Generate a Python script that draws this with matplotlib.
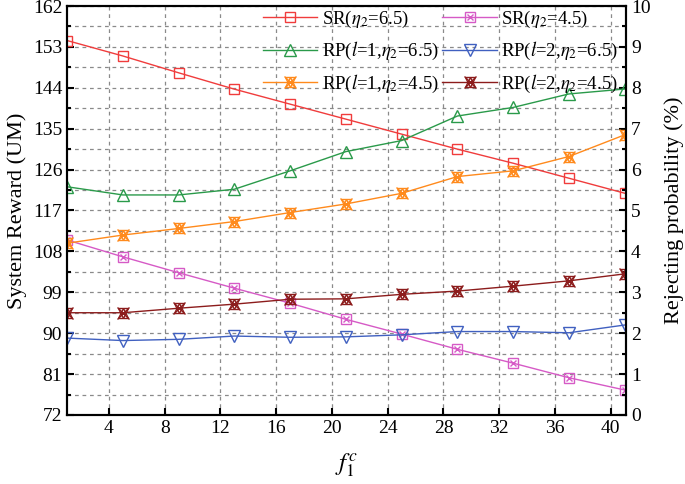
import numpy as np
import matplotlib.pyplot as plt
from matplotlib.ticker import MultipleLocator

plt.rcParams['font.family'] = 'Liberation Serif'
plt.rcParams['mathtext.fontset'] = 'stix'

# Datos
f1c = [1, 5, 9, 13, 17, 21, 25, 29, 33, 37, 41]
sr_65 = [154.4, 151.0, 147.3, 143.7, 140.4, 137.1, 133.8, 130.5, 127.4, 124.1, 120.8]
sr_45 = [110.5, 106.8, 103.3, 99.9, 96.6, 93.05, 89.8, 86.45, 83.4, 80.2, 77.5]
rp_l1_65 = [5.58, 5.38, 5.38, 5.52, 5.97, 6.44, 6.71, 7.31, 7.52, 7.85, 7.97]
rp_l2_65 = [1.88, 1.82, 1.85, 1.93, 1.90, 1.91, 1.96, 2.04, 2.04, 2.01, 2.20]
rp_l1_45 = [4.20, 4.40, 4.56, 4.73, 4.95, 5.16, 5.42, 5.83, 5.97, 6.32, 6.85]
rp_l2_45 = [2.50, 2.50, 2.61, 2.71, 2.83, 2.84, 2.95, 3.03, 3.15, 3.28, 3.45]

c_red = '#F03C3C'
c_pink = '#D65AC6'
c_green = '#2A9A4A'
c_blue = '#4060C0'
c_orange = '#FF8A1C'
c_dred = '#8C1C1C'

fig = plt.figure(figsize=(6.85, 4.84), dpi=100)
ax = fig.add_axes([0.098, 0.1426, 0.816, 0.845])
ax2 = ax.twinx()

ms = 7.5
mk = dict(markerfacecolor='none', markersize=ms, markeredgewidth=1.0)

h1, = ax.plot(f1c, sr_65, color=c_red, lw=1, marker='s', **mk)
h2, = ax.plot(f1c, sr_45, color=c_pink, lw=1, marker='s', **mk)
h2b, = ax.plot(f1c, sr_45, color=c_pink, lw=0, marker='x', markersize=5, markeredgewidth=1.0)

h3, = ax2.plot(f1c, rp_l1_65, color=c_green, lw=1, marker='^', markerfacecolor='none',
               markersize=8.5, markeredgewidth=1.0)
h4, = ax2.plot(f1c, rp_l2_65, color=c_blue, lw=1, marker='v', markerfacecolor='none',
               markersize=8.5, markeredgewidth=1.0)

def star(y, color):
    a, = ax2.plot(f1c, y, color=color, lw=1, marker='^', **mk)
    b, = ax2.plot(f1c, y, color=color, lw=0, marker='v', **mk)
    c, = ax2.plot(f1c, y, color=color, lw=0, marker='x', markersize=ms + 1, markeredgewidth=1.0)
    return (a, b, c)

h5 = star(rp_l1_45, c_orange)
h6 = star(rp_l2_45, c_dred)

ax.set_xlim(1, 41.1)
ax.set_ylim(72, 162)
ax2.set_ylim(0, 10)
ax.set_xticks(np.arange(4, 41, 4))
ax.yaxis.set_major_locator(MultipleLocator(9))
ax.yaxis.set_minor_locator(MultipleLocator(4.5))
ax2.yaxis.set_major_locator(MultipleLocator(1))
ax2.yaxis.set_minor_locator(MultipleLocator(0.5))

ax.grid(True, which='both', axis='y', ls=(0, (3, 3)), color='#8a8a8a', lw=0.9)
ax.grid(True, which='major', axis='x', ls=(0, (3, 3)), color='#8a8a8a', lw=0.9)

for a in (ax, ax2):
    a.tick_params(direction='in', which='major', length=5, width=1.5, labelsize=14)
    a.tick_params(direction='in', which='minor', length=3, width=1.5)
    for s in a.spines.values():
        s.set_linewidth(1.5)

ax.set_ylabel('System Reward (UM)', fontsize=16)
ax2.set_ylabel('Rejecting probability (%)', fontsize=16, labelpad=10)
ax.set_xlabel('$f_1^c$', fontsize=18, labelpad=10)

handles = [h1, h3, h5, (h2, h2b), h4, h6]
labels = [r'SR($\eta_2$=6.5)', r'RP($l$=1,$\eta_2$=6.5)', r'RP($l$=1,$\eta_2$=4.5)',
          r'SR($\eta_2$=4.5)', r'RP($l$=2,$\eta_2$=6.5)', r'RP($l$=2,$\eta_2$=4.5)']
ax2.legend(handles, labels, ncol=2, loc='upper left', frameon=False, fontsize=13.5,
           handlelength=2.9, columnspacing=0.2, labelspacing=0.55, handletextpad=0.25,
           borderaxespad=0, borderpad=0.15, bbox_to_anchor=(0.345, 1.0))

fig.savefig('out.png', dpi=100)
